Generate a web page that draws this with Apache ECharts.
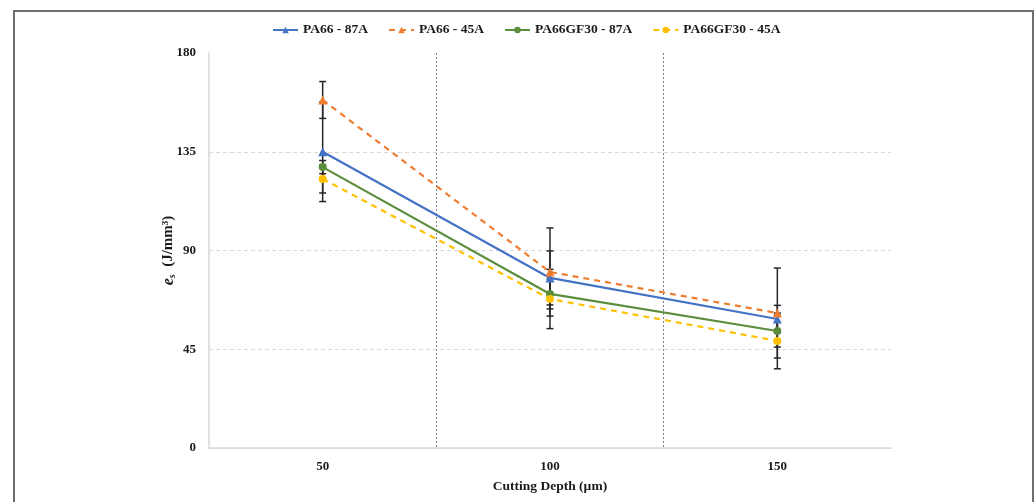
<!DOCTYPE html>
<html>
<head>
<meta charset="utf-8">
<script src="https://cdn.jsdelivr.net/npm/echarts@6/dist/echarts.min.js"></script>
<style>
  html, body { margin: 0; padding: 0; background: #fff; }
  #chart { width: 1035px; height: 502px; }
</style>
</head>
<body>
<div id="chart"></div>
<script>
// cutting depth categories
const depths = ['50', '100', '150'];

// mean specific energy per series
const pa66_87 = [135, 77.5, 58.8];
const pa66_45 = [158.6, 80.2, 61.5];
const gf30_87 = [128, 70.2, 53.3];
const gf30_45 = [122.6, 67.9, 48.8];

// +/- error per series
const pa66_87Err = [22.7, 12.3, 6.2];
const pa66_45Err = [8.4, 20.1, 20.5];
const gf30_87Err = [3, 6.8, 7.3];
const gf30_45Err = [6.4, 13.5, 12.7];

const yTicks = [0, 45, 90, 135, 180];

const serif = '"Liberation Serif", "DejaVu Serif", serif';

function errData(vals, errs) {
  return vals.map((v, i) => [i, v - errs[i], v + errs[i]]);
}

const allErr = [].concat(
  errData(pa66_87, pa66_87Err),
  errData(pa66_45, pa66_45Err),
  errData(gf30_87, gf30_87Err),
  errData(gf30_45, gf30_45Err)
);

function lineSeries(name, data, color, dashed, symbol) {
  return {
    name: name,
    type: 'line',
    data: data,
    symbol: symbol,
    symbolSize: symbol === 'triangle' ? 9 : 8,
    z: 5,
    lineStyle: { color: color, width: 2.2, type: dashed ? [6, 5] : 'solid' },
    itemStyle: { color: color },
    emphasis: { disabled: true }
  };
}

const chart = echarts.init(document.getElementById('chart'));

const option = {
  backgroundColor: '#fff',
  animation: false,
  graphic: [{
    type: 'rect',
    shape: { x: 14, y: 11, width: 1019, height: 520 },
    style: { fill: null, stroke: '#6e6e6e', lineWidth: 2 },
    silent: true
  }],
  legend: {
    top: 18,
    left: 267,
    itemWidth: 25,
    itemHeight: 8,
    itemGap: 20,
    textStyle: { fontFamily: serif, fontWeight: 'bold', fontSize: 13.5, color: '#1a1a1a' },
    data: ['PA66 - 87A', 'PA66 - 45A', 'PA66GF30 - 87A', 'PA66GF30 - 45A']
  },
  grid: { left: 209, right: 144, top: 53, bottom: 54 },
  xAxis: {
    type: 'category',
    data: depths,
    boundaryGap: true,
    axisLine: { lineStyle: { color: '#d9d9d9', width: 1.5 } },
    axisTick: { show: false },
    axisLabel: { fontFamily: serif, fontWeight: 'bold', fontSize: 13, color: '#1a1a1a', margin: 12 },
    splitLine: {
      show: true,
      showMinLine: false,
      showMaxLine: false,
      lineStyle: { color: '#7f7f7f', type: [2, 2], width: 1 }
    },
    name: 'Cutting Depth (\u00b5m)',
    nameLocation: 'middle',
    nameGap: 32,
    nameMoveOverlap: false,
    nameTextStyle: { fontFamily: serif, fontWeight: 'bold', fontSize: 13.5, color: '#1a1a1a' }
  },
  yAxis: {
    type: 'value',
    min: yTicks[0],
    max: yTicks[yTicks.length - 1],
    interval: 45,
    axisLine: { show: true, lineStyle: { color: '#d9d9d9', width: 1.5 } },
    axisTick: { show: false },
    axisLabel: { fontFamily: serif, fontWeight: 'bold', fontSize: 13, color: '#1a1a1a', margin: 13 },
    splitLine: {
      show: true,
      showMaxLine: false,
      lineStyle: { color: '#d9d9d9', type: [4, 3], width: 1 }
    },
    name: '{e|e}{s|s}{u|  (J/mm\u00b3)}',
    nameLocation: 'middle',
    nameRotate: 90,
    nameGap: 32,
    nameMoveOverlap: false,
    nameTextStyle: {
      rich: {
        e: { fontFamily: serif, fontWeight: 'bold', fontStyle: 'italic', fontSize: 16, color: '#1a1a1a' },
        s: { fontFamily: serif, fontWeight: 'bold', fontStyle: 'italic', fontSize: 10, color: '#1a1a1a', padding: [7, 0, 0, 0] },
        u: { fontFamily: serif, fontWeight: 'bold', fontSize: 15, color: '#1a1a1a' }
      }
    }
  },
  series: [
    {
      type: 'custom',
      name: 'err',
      z: 2,
      silent: true,
      data: allErr,
      renderItem: function (params, api) {
        const x = api.value(0);
        const lo = api.coord([x, api.value(1)]);
        const hi = api.coord([x, api.value(2)]);
        const w = 3.5;
        const st = { stroke: '#262626', lineWidth: 1.5 };
        return {
          type: 'group',
          children: [
            { type: 'line', shape: { x1: hi[0], y1: hi[1], x2: lo[0], y2: lo[1] }, style: st },
            { type: 'line', shape: { x1: hi[0] - w, y1: hi[1], x2: hi[0] + w, y2: hi[1] }, style: st },
            { type: 'line', shape: { x1: lo[0] - w, y1: lo[1], x2: lo[0] + w, y2: lo[1] }, style: st }
          ]
        };
      }
    },
    lineSeries('PA66 - 87A', pa66_87, '#4472C4', false, 'triangle'),
    lineSeries('PA66 - 45A', pa66_45, '#ED7D31', true, 'triangle'),
    lineSeries('PA66GF30 - 87A', gf30_87, '#5B8E3C', false, 'circle'),
    lineSeries('PA66GF30 - 45A', gf30_45, '#FFC000', true, 'circle')
  ]
};

chart.setOption(option);
</script>
</body>
</html>
